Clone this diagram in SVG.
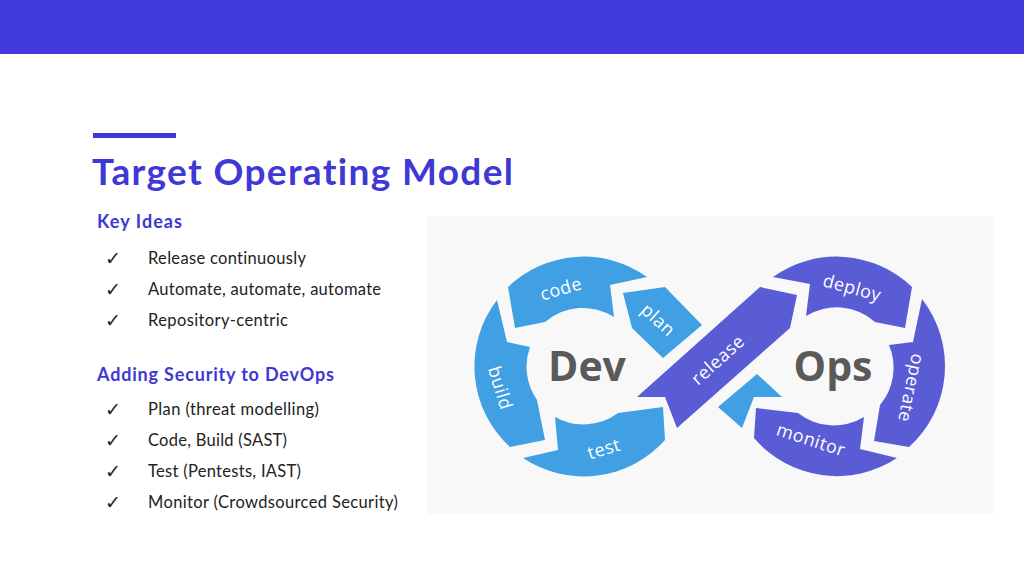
<svg xmlns="http://www.w3.org/2000/svg" width="1024" height="576" viewBox="0 0 1024 576">
<style>
.h{font-family:Lato,"Liberation Sans",sans-serif;font-weight:700;fill:#4038D4;font-variant-ligatures:none}
.b{font-family:Lato,"Liberation Sans",sans-serif;font-size:16.5px;fill:#222;font-variant-ligatures:none}
.ck{font-family:"DejaVu Sans",sans-serif;font-size:19px;fill:#222}
.dev{fill:#41A0E4}
.ops{fill:#5A5CD6}
.lbl{font-family:"Open Sans","Noto Sans",sans-serif;font-size:18px;fill:#fff;text-anchor:middle;letter-spacing:0.5px}
.big{font-family:"Open Sans","Noto Sans",sans-serif;font-weight:700;font-size:41px;fill:#5A5A5A;text-anchor:middle}
</style>
<rect width="1024" height="576" fill="#fff"/>
<rect id="header" x="0" y="0" width="1024" height="54" fill="#4139DC"/>
<rect id="accent" x="93" y="133" width="83" height="5" fill="#4038D4"/>
<text id="title" class="h" x="92" y="185" font-size="37" textLength="421" lengthAdjust="spacing">Target Operating Model</text>
<g id="key-ideas">
<text class="h" x="97" y="228" font-size="18" textLength="85" lengthAdjust="spacing">Key Ideas</text>
<text class="ck" x="105" y="265">✓</text><text class="b" x="148" y="264" textLength="158" lengthAdjust="spacing">Release continuously</text>
<text class="ck" x="105" y="296">✓</text><text class="b" x="148" y="295" textLength="233" lengthAdjust="spacing">Automate, automate, automate</text>
<text class="ck" x="105" y="327">✓</text><text class="b" x="148" y="326" textLength="140" lengthAdjust="spacing">Repository-centric</text>
</g>
<g id="security">
<text class="h" x="97" y="381" font-size="18" textLength="237" lengthAdjust="spacing">Adding Security to DevOps</text>
<text class="ck" x="105" y="416">✓</text><text class="b" x="148" y="415" textLength="171" lengthAdjust="spacing">Plan (threat modelling)</text>
<text class="ck" x="105" y="447">✓</text><text class="b" x="148" y="446" textLength="139" lengthAdjust="spacing">Code, Build (SAST)</text>
<text class="ck" x="105" y="478">✓</text><text class="b" x="148" y="477" textLength="153" lengthAdjust="spacing">Test (Pentests, IAST)</text>
<text class="ck" x="105" y="509">✓</text><text class="b" x="148" y="508" textLength="250" lengthAdjust="spacing">Monitor (Crowdsourced Security)</text>
</g>
<rect id="panel" x="427" y="216" width="566" height="298" fill="#F8F8F8"/>
<g id="connectors">
<polygon id="loop-return" class="dev" points="757,374 782,397 754,397 742,428 718,407"/>
</g>
<g id="plan"><polygon class="dev" points="623,293 665,287 702,325 663,358 632,328"/>
<text class="lbl" transform="translate(658,320) rotate(42)" dy="6">plan</text></g>
<g id="code"><path class="dev" d="M647,277 A109,109 0 0 0 508,287 L515,328 L545,322 A58,58 0 0 1 614,317 L610,285 Z"/>
<text class="lbl" transform="translate(561,289) rotate(-16)" dy="6">code</text></g>
<g id="build"><path class="dev" d="M497,300 A109,109 0 0 0 510,447 L545,440 L537,400 A58,58 0 0 1 530,347 L507,342 Z"/>
<text class="lbl" transform="translate(500,388) rotate(73)" dy="6">build</text></g>
<g id="test"><path class="dev" d="M523,458 A109,109 0 0 0 665,440 L663,407 L618,413 A58,58 0 0 1 555,417 L558,450 Z"/>
<text class="lbl" transform="translate(604,449) rotate(-16)" dy="6">test</text></g>
<g id="release"><polygon class="ops" points="637,397 760,287 797,295 790,328 677,428 665,397"/>
<text class="lbl" transform="translate(718,360) rotate(-42)" dy="6">release</text></g>
<g id="deploy"><path class="ops" d="M773,277 A109,109 0 0 1 912,287 L905,328 L875,322 A58,58 0 0 0 806,316 L810,284 Z"/>
<text class="lbl" transform="translate(852,288) rotate(15)" dy="6">deploy</text></g>
<g id="operate"><path class="ops" d="M922,299 A109,109 0 0 1 909,447 L874,441 L880,405 A58,58 0 0 0 889,345 L913,342 Z"/>
<text class="lbl" transform="translate(911,388) rotate(102)" dy="6">operate</text></g>
<g id="monitor"><path class="ops" d="M897,458 A109,109 0 0 1 754,438 L756,408 L798,413 A58,58 0 0 0 864,417 L860,449 Z"/>
<text class="lbl" transform="translate(811,440) rotate(18)" dy="6">monitor</text></g>
<g id="dev"><text class="big" x="587" y="381">Dev</text></g>
<g id="ops"><text class="big" x="833" y="381">Ops</text></g>
</svg>
